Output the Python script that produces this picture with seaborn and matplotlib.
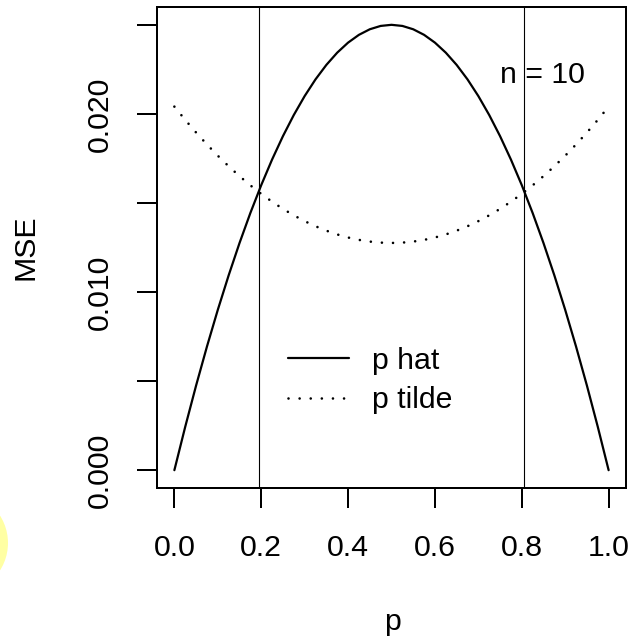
import matplotlib
matplotlib.use("Agg")
import matplotlib.pyplot as plt
from matplotlib.patches import Ellipse
import seaborn as sns
import pandas as pd

p = [0.000, 0.025, 0.050, 0.075, 0.100, 0.125, 0.150, 0.175, 0.200, 0.225,
     0.250, 0.275, 0.300, 0.325, 0.350, 0.375, 0.400, 0.425, 0.450, 0.475,
     0.500, 0.525, 0.550, 0.575, 0.600, 0.625, 0.650, 0.675, 0.700, 0.725,
     0.750, 0.775, 0.800, 0.825, 0.850, 0.875, 0.900, 0.925, 0.950, 0.975, 1.000]
mse_hat = [0.0, 0.0024375, 0.00475, 0.0069375, 0.009, 0.0109375, 0.01275, 0.0144375,
           0.016, 0.0174375, 0.01875, 0.0199375, 0.021, 0.0219375, 0.02275, 0.0234375,
           0.024, 0.0244375, 0.02475, 0.0249375, 0.025, 0.0249375, 0.02475, 0.0244375,
           0.024, 0.0234375, 0.02275, 0.0219375, 0.021, 0.0199375, 0.01875, 0.0174375,
           0.016, 0.0144375, 0.01275, 0.0109375, 0.009, 0.0069375, 0.00475, 0.0024375, 0.0]
mse_tilde = [0.020408, 0.019662, 0.018954, 0.018284, 0.017653, 0.017060, 0.016505,
             0.015989, 0.015510, 0.015070, 0.014668, 0.014305, 0.013980, 0.013693,
             0.013444, 0.013233, 0.013061, 0.012927, 0.012832, 0.012774, 0.012755,
             0.012774, 0.012832, 0.012927, 0.013061, 0.013233, 0.013444, 0.013693,
             0.013980, 0.014305, 0.014668, 0.015070, 0.015510, 0.015989, 0.016505,
             0.017060, 0.017653, 0.018284, 0.018954, 0.019662, 0.020408]
crossings = [0.1938, 0.8062]
x_ticks = [0.0, 0.2, 0.4, 0.6, 0.8, 1.0]
x_ticklabels = ["0.0", "0.2", "0.4", "0.6", "0.8", "1.0"]
y_ticks = [0.000, 0.005, 0.010, 0.015, 0.020, 0.025]
y_ticklabels = ["0.000", "", "0.010", "", "0.020", ""]
series_names = ["p hat", "p tilde"]
annotation = "n = 10"

sns.set_theme(style="ticks")
plt.rcParams["font.family"] = ["Liberation Sans", "DejaVu Sans"]
plt.rcParams["text.color"] = "black"
plt.rcParams["axes.labelcolor"] = "black"
FS = 21.8
DOT = (0, (0.01, 4.2))

W, H = 634, 640
fig = plt.figure(figsize=(W / 100, H / 100), dpi=100)
ax = fig.add_axes([157 / W, 1 - 488 / H, (626 - 157) / W, (488 - 7) / H])

df = pd.DataFrame({"p": p + p,
                   "MSE": mse_hat + mse_tilde,
                   "est": [series_names[0]] * len(p) + [series_names[1]] * len(p)})

sns.lineplot(data=df[df.est == series_names[0]], x="p", y="MSE", ax=ax,
             color="black", linewidth=1.6, label=series_names[0])
sns.lineplot(data=df[df.est == series_names[1]], x="p", y="MSE", ax=ax,
             color="black", linewidth=1.9, label=series_names[1])
dotted = ax.get_lines()[1]
dotted.set_linestyle(DOT)
dotted.set_dash_capstyle("round")

for c in crossings:
    ax.axvline(c, color="black", linewidth=0.8)

ax.text(0.848, 0.0222, annotation, ha="center", va="center", fontsize=FS, color="black")

ax.set_xlim(-0.04, 1.04)
ax.set_ylim(-0.001, 0.026)
ax.set_xticks(x_ticks)
ax.set_xticklabels(x_ticklabels)
ax.set_yticks(y_ticks)
ax.set_yticklabels(y_ticklabels, rotation=90, va="center")
ax.tick_params(axis="both", length=14.4, width=1.44, labelsize=FS, colors="black",
               labelcolor="black", direction="out")
ax.tick_params(axis="x", pad=19)
ax.tick_params(axis="y", pad=17)
for s in ax.spines.values():
    s.set_linewidth(1.44)
    s.set_color("black")
    s.set_visible(True)
ax.set_xlabel("")
ax.set_ylabel("")

leg = ax.legend(loc="center left", bbox_to_anchor=(0.280, 0.2235), frameon=False,
                fontsize=FS, handlelength=2.0, handletextpad=0.75,
                labelspacing=0.38, borderpad=0, borderaxespad=0)
for t in leg.get_texts():
    t.set_color("black")
for h in leg.get_lines():
    h.set_color("black")
leg.get_lines()[0].set_linewidth(1.6)
leg.get_lines()[1].set_linewidth(1.9)
leg.get_lines()[1].set_linestyle(DOT)
leg.get_lines()[1].set_dash_capstyle("round")

fig.text(25 / W, 1 - 247 / H, "MSE", rotation=90, ha="center", va="center",
         fontsize=FS, color="black")
fig.text(392 / W, 1 - 622 / H, "p", ha="center", va="center", fontsize=FS,
         color="black")

fig.patches.append(Ellipse((-43 / W, 1 - 543 / H), 2 * 51 / W, 2 * 51 / H,
                           transform=fig.transFigure, facecolor="#ffff99",
                           edgecolor="none", alpha=0.9))

fig.savefig("out.png", dpi=100, facecolor="white")
